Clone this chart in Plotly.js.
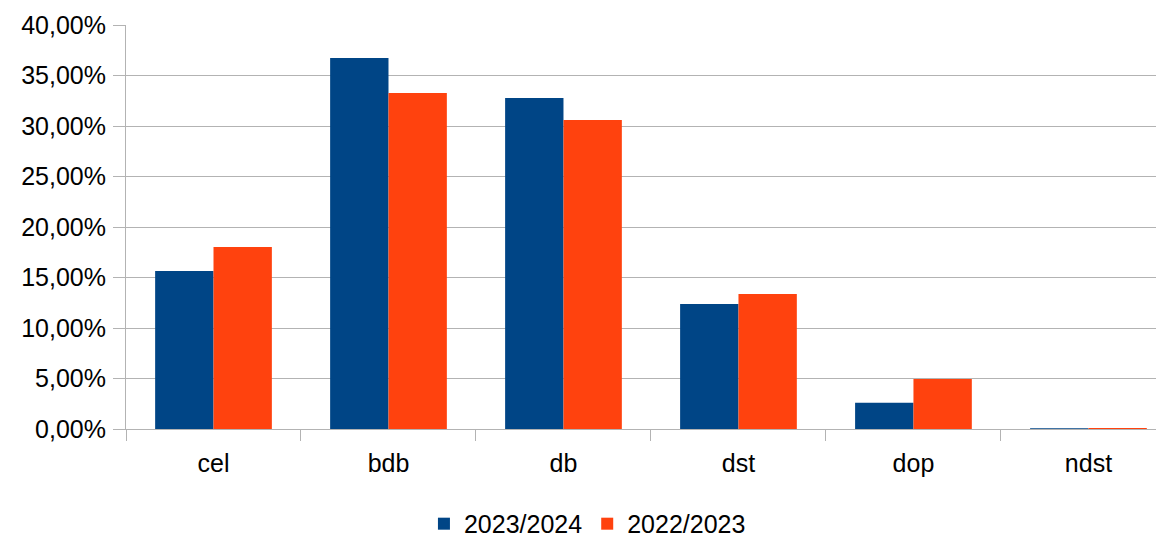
<!DOCTYPE html>
<html>
<head>
<meta charset="utf-8">
<script src="https://cdn.plot.ly/plotly-3.0.1.min.js"></script>
<style>html,body{margin:0;padding:0;background:#fff;}#chart{width:1156px;height:540px;}</style>
</head>
<body>
<div id="chart"></div>
<script>
const categories = ["cel", "bdb", "db", "dst", "dop", "ndst"];
const series2324 = [0.1564, 0.3673, 0.3277, 0.1238, 0.0260, 0.0007];
const series2223 = [0.1802, 0.3327, 0.3059, 0.1337, 0.0495, 0.0009];
const seriesNames = ["2023/2024", "2022/2023"];
const yTicks = [0, 0.05, 0.10, 0.15, 0.20, 0.25, 0.30, 0.35, 0.40];

const font = {family: "Liberation Sans, Arial, sans-serif", size: 25, color: "#000"};

const data = [
  {type: "bar", x: categories, y: series2324, name: seriesNames[0], marker: {color: "#004586"}, hoverinfo: "none"},
  {type: "bar", x: categories, y: series2223, name: seriesNames[1], marker: {color: "#ff420e"}, hoverinfo: "none"}
];

const layout = {
  width: 1156, height: 540,
  margin: {l: 126, r: 0, t: 25, b: 111, pad: 0, autoexpand: false},
  paper_bgcolor: "#fff", plot_bgcolor: "#fff",
  font: font,
  separators: ", ",
  barmode: "group",
  bargap: 0.333,
  bargroupgap: 0,
  showlegend: true,
  legend: {orientation: "h", x: 0.448, xanchor: "center", y: -0.235, yanchor: "middle", font: font, itemwidth: 30, tracegroupgap: 0},
  xaxis: {
    type: "category",
    range: [-0.5, 5.386],
    tickson: "boundaries",
    ticks: "outside", ticklen: 11, tickcolor: "#b3b3b3", tickwidth: 1,
    ticklabelstandoff: 12,
    showline: true, linecolor: "#b3b3b3", linewidth: 1,
    showgrid: false, zeroline: false,
    tickfont: font,
    automargin: false,
    fixedrange: true
  },
  yaxis: {
    range: [0, 0.40],
    tickvals: yTicks,
    tickformat: ".2%",
    ticks: "outside", ticklen: 12, tickcolor: "#b3b3b3", tickwidth: 1,
    ticklabelstandoff: 2,
    showline: true, linecolor: "#b3b3b3", linewidth: 1,
    showgrid: true, gridcolor: "#b3b3b3", gridwidth: 1,
    zeroline: false,
    tickfont: font,
    automargin: false,
    fixedrange: true
  }
};

Plotly.newPlot("chart", data, layout, {displayModeBar: false, staticPlot: true});
</script>
</body>
</html>
